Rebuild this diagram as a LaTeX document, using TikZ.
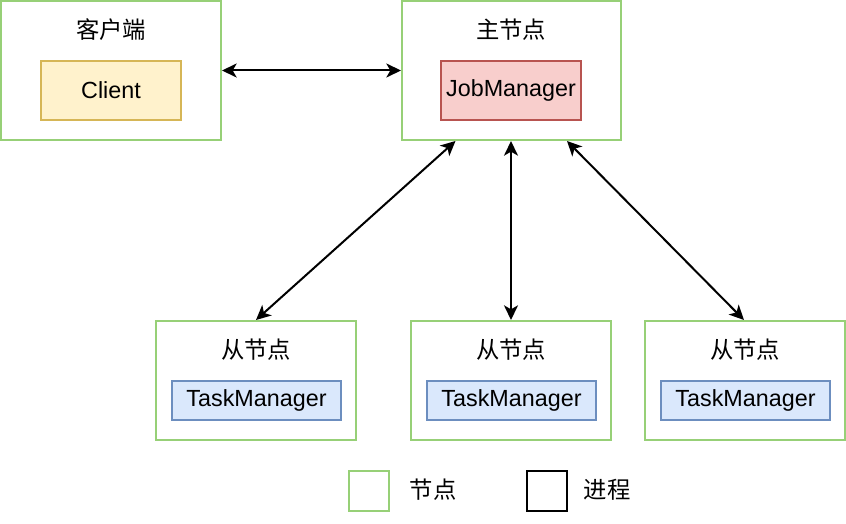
\documentclass[tikz,border=0pt]{standalone}
\usepackage{fontspec}
\setmainfont{Liberation Sans}
\newfontfamily\cjk{Noto Sans CJK SC}
\usetikzlibrary{arrows.meta,calc}
\definecolor{hostgreen}{HTML}{97D077}
\definecolor{clientfill}{HTML}{FFF2CC}
\definecolor{clientline}{HTML}{D6B656}
\definecolor{jobfill}{HTML}{F8CECC}
\definecolor{jobline}{HTML}{B85450}
\definecolor{taskfill}{HTML}{DAE8FC}
\definecolor{taskline}{HTML}{6C8EBF}
\begin{document}
\begin{tikzpicture}[x=0.75pt,y=-0.75pt,font=\fontsize{17.5}{20}\selectfont,
  hostbox/.style={draw=hostgreen,line width=1.5pt,minimum width=#1,minimum height=104.25pt,inner sep=0pt},
  workerbox/.style={draw=hostgreen,line width=1.5pt,minimum width=150pt,minimum height=89.25pt,inner sep=0pt},
  procbox/.style={draw=#1line,fill=#1fill,line width=1pt,inner sep=0pt},
  link/.style={line width=1.5pt,{Stealth[length=11pt,width=10.5pt,inset=3pt]}-{Stealth[length=11pt,width=10.5pt,inset=3pt]}}]
  \useasboundingbox (0,0) rectangle (846,524);
  % top row
  \node[hostbox=165pt] (clienthost) at (111,70.5) {};
  \node (clienttitle) at (111,30) {\cjk 客户端};
  \node[procbox=client,minimum width=105pt,minimum height=44.25pt] (client) at (111,90.5) {Client};
  \node[hostbox=164.25pt] (master) at (511.5,70.5) {};
  \node (mastertitle) at (511,30) {\cjk 主节点};
  \node[procbox=job,minimum width=105pt,minimum height=44.25pt] (jobmgr) at (511,90.5) {JobManager};
  % workers
  \foreach \i/\cx in {1/256,2/511,3/745}{
    \node[workerbox] (worker\i) at (\cx,380.5) {};
    \node (workertitle\i) at (\cx,350) {\cjk 从节点};
    \node[procbox=task,minimum width=126.75pt,minimum height=29.25pt] (taskmgr\i) at (\cx+0.5,400.5) {TaskManager};
  }
  % connectors
  \draw[link] (clienthost.east) -- (master.west);
  \draw[link] ($(master.south)+(-56,0)$) -- (worker1.north);
  \draw[link] ($(master.south)+(-0.5,0)$) -- (worker2.north);
  \draw[link] ($(master.south)+(55.5,0)$) -- ($(worker3.north)+(-1,0)$);
  % legend
  \node[draw=hostgreen,line width=1.5pt,minimum size=30pt,inner sep=0pt] (keyhost) at (369,491) {};
  \node (keyhostlabel) at (433,490) {\cjk 节点};
  \node[draw=black,line width=1.5pt,minimum size=30pt,inner sep=0pt] (keyproc) at (547,491) {};
  \node (keyproclabel) at (607,490) {\cjk 进程};
\end{tikzpicture}
\end{document}
